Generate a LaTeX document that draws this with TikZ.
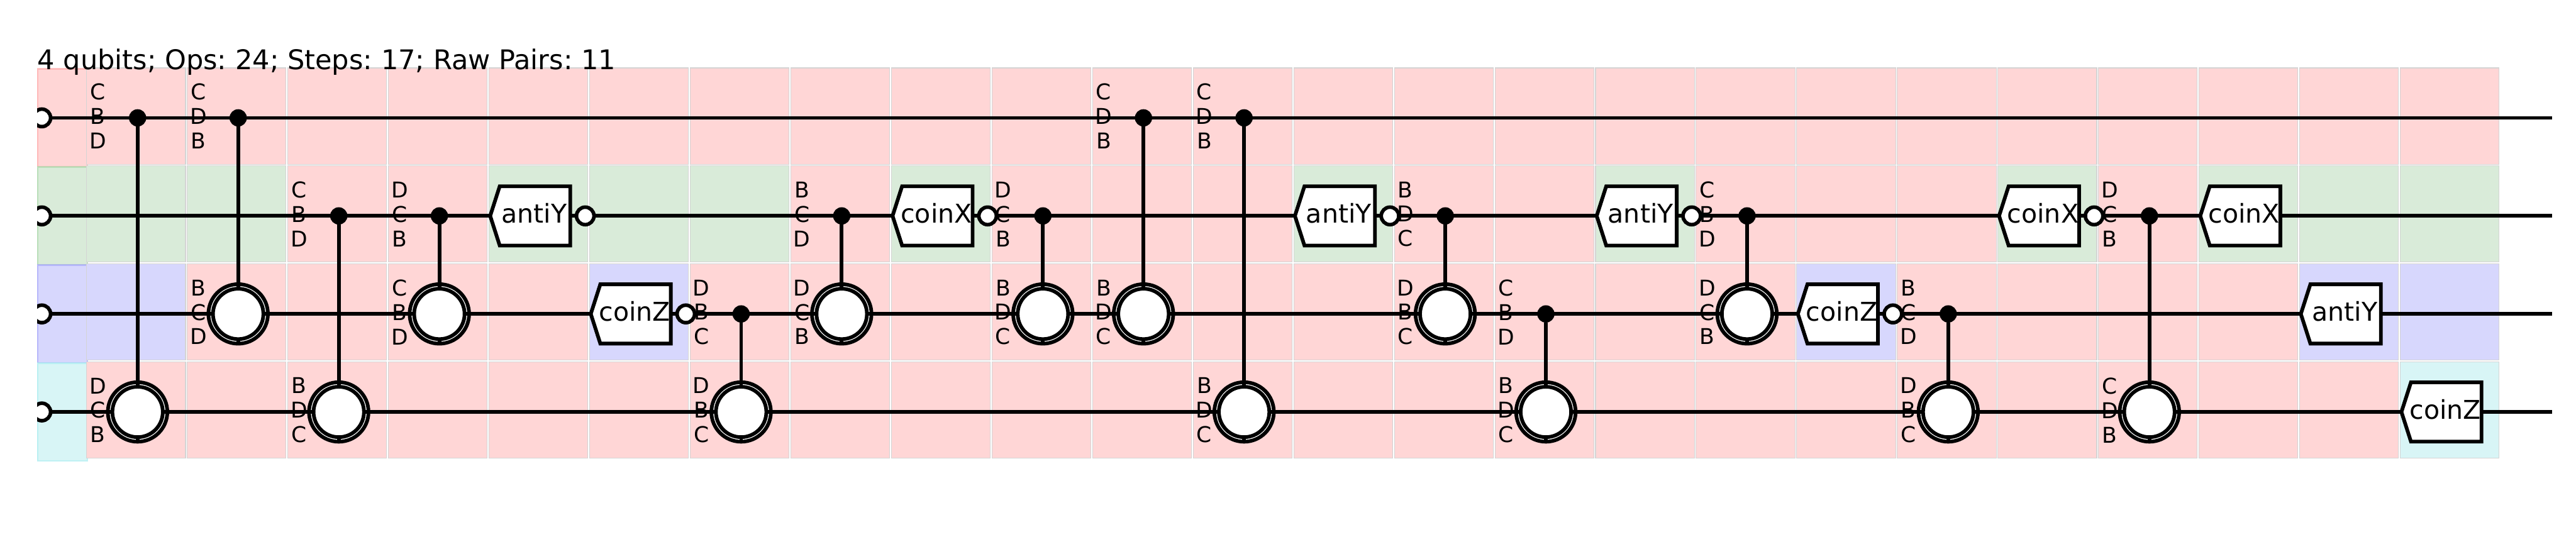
\documentclass[tikz,border=0pt]{standalone}
\usepackage{xcolor}
\usepackage{fontspec}
\setmainfont{DejaVu Sans}
\usetikzlibrary{calc,positioning}
\definecolor{rowred}{RGB}{255,214,214}
\definecolor{rowgreen}{RGB}{217,235,217}
\definecolor{rowblue}{RGB}{215,215,253}
\definecolor{rowcyan}{RGB}{216,245,246}
\definecolor{edgered}{RGB}{255,165,165}
\definecolor{edgegreen}{RGB}{165,215,165}
\definecolor{edgeblue}{RGB}{160,160,250}
\definecolor{edgecyan}{RGB}{165,235,240}
\definecolor{cellgray}{RGB}{212,212,212}

\begin{document}
\frenchspacing
\begin{tikzpicture}[
  cell/.style={rectangle, draw=cellgray, line width=0.015cm, inner sep=0, outer sep=0,
    minimum width=2.285cm, minimum height=2.225cm},
  band/.style={rectangle, draw opacity=0.6, line width=0.04cm, inner sep=0, outer sep=0,
    minimum width=1.16cm, minimum height=2.266cm},
  wire/.style={line width=0.085cm, black},
  ctrl/.style={circle, fill=black, inner sep=0, outer sep=0, minimum size=0.40cm},
  ringout/.style={circle, draw=black, fill=white, line width=0.085cm, inner sep=0, outer sep=0,
    minimum size=1.375cm},
  ringin/.style={circle, draw=black, fill=white, line width=0.085cm, inner sep=0, outer sep=0,
    minimum size=1.165cm},
  bubble/.style={circle, draw=black, fill=white, line width=0.083cm, inner sep=0, outer sep=0,
    minimum size=0.405cm},
  gatebox/.style={draw=black, fill=white, line width=0.085cm, line join=miter},
  gatetext/.style={inner sep=0, anchor=base, font=\fontsize{17}{20}\selectfont},
  tag/.style={inner sep=0, align=center, font=\fontsize{14.3}{16.06}\selectfont},
]
  \useasboundingbox (0,0) rectangle (59.54,12.8);

  % Grid points
  \foreach \k in {0,...,23}
    \foreach \q in {0,...,3}
      \coordinate (p\k-\q) at ({3.18+2.325*\k},{10.075-2.266*\q});

  % Left bands
  \begin{scope}
    \clip (0.86,0) rectangle (59.54,12.8);
    \foreach \q/\fillc/\edgec in {0/rowred/edgered,1/rowgreen/edgegreen,2/rowblue/edgeblue,3/rowcyan/edgecyan}
      \node[band, fill=\fillc, draw=\edgec] (band\q) at (1.44,{10.075-2.266*\q}) {};
  \end{scope}

  % Cells
  \foreach \k in {0,...,23}
    \foreach \q in {0,...,3}
      \node[cell, fill=rowred] (cell\k-\q) at ([shift={(-.0345,.0425)}]p\k-\q) {};
  \foreach \k in {0,1,4,5,6,8,12,15,19,21,22,23}
    \node[cell, fill=rowgreen] at ([shift={(-.0345,.0425)}]p\k-1) {};
  \foreach \k in {0,5,17,22,23}
    \node[cell, fill=rowblue] at ([shift={(-.0345,.0425)}]p\k-2) {};
  \node[cell, fill=rowcyan] at ([shift={(-.0345,.0425)}]p23-3) {};

  % Wires
  \begin{scope}
    \clip (0.86,0) rectangle (59.54,12.8);
    \foreach \q in {0,...,3}
      \node[bubble] (in\q) at (0.967,{10.075-2.266*\q}) {};
  \end{scope}
  \foreach \q in {0,...,3} {
    \coordinate (out\q) at (58.98,{10.075-2.266*\q});
    \draw[wire] (in\q) -- (out\q);
  }

  % Letter stacks
  \foreach \k/\q/\la/\lb/\lc in {
      0/0/C/B/D, 0/3/D/C/B, 1/0/C/D/B, 1/2/B/C/D, 2/1/C/B/D, 2/3/B/D/C,
      3/1/D/C/B, 3/2/C/B/D, 6/2/D/B/C, 6/3/D/B/C, 7/1/B/C/D, 7/2/D/C/B,
      9/1/D/C/B, 9/2/B/D/C, 10/0/C/D/B, 10/2/B/D/C, 11/0/C/D/B, 11/3/B/D/C,
      13/1/B/D/C, 13/2/D/B/C, 14/2/C/B/D, 14/3/B/D/C, 16/1/C/B/D, 16/2/D/C/B,
      18/2/B/C/D, 18/3/D/B/C, 20/1/D/C/B, 20/3/C/D/B}
    \node[tag] (tag\k-\q) at ([shift={(-.92,.04)}]p\k-\q) {\la\\\lb\\\lc};

  % Controlled pairs
  \foreach \k/\qc/\qt in {0/0/3,1/0/2,2/1/3,3/1/2,6/2/3,7/1/2,9/1/2,10/0/2,
      11/0/3,13/1/2,14/2/3,16/1/2,18/2/3,20/1/3} {
    \node[ctrl] (c\k) at (p\k-\qc) {};
    \node[ringout] (r\k) at (p\k-\qt) {};
    \draw[wire] (c\k) -- (r\k.south);
    \draw[wire] (r\k.west) -- (r\k.east);
    \node[ringin] (t\k) at (p\k-\qt) {};
  }

  % Named gates
  \foreach \k/\q/\name in {4/1/antiY,5/2/coinZ,8/1/coinX,12/1/antiY,15/1/antiY,17/2/coinZ,
      19/1/coinX,21/1/coinX,22/2/antiY,23/3/coinZ} {
    \draw[gatebox] ([xshift=-1.15cm]p\k-\q) -- ++(.22,.685) -- ++(1.63,0) -- ++(0,-1.37)
      -- ++(-1.63,0) -- cycle;
    \node[gatetext] (g\k) at ([shift={(-.135,-.165)}]p\k-\q) {\name};
  }

  % Bubbles behind gates
  \foreach \k/\q in {4/1,5/2,8/1,12/1,15/1,17/2,19/1}
    \node[bubble] (b\k) at ([xshift=1.047cm]p\k-\q) {};

  % Title
  \node[inner sep=0, anchor=base west, font=\fontsize{17.82}{20}\selectfont] (title) at (0.86,11.2)
    {4 qubits; Ops: 24; Steps: 17; Raw Pairs: 11};
\end{tikzpicture}
\end{document}
